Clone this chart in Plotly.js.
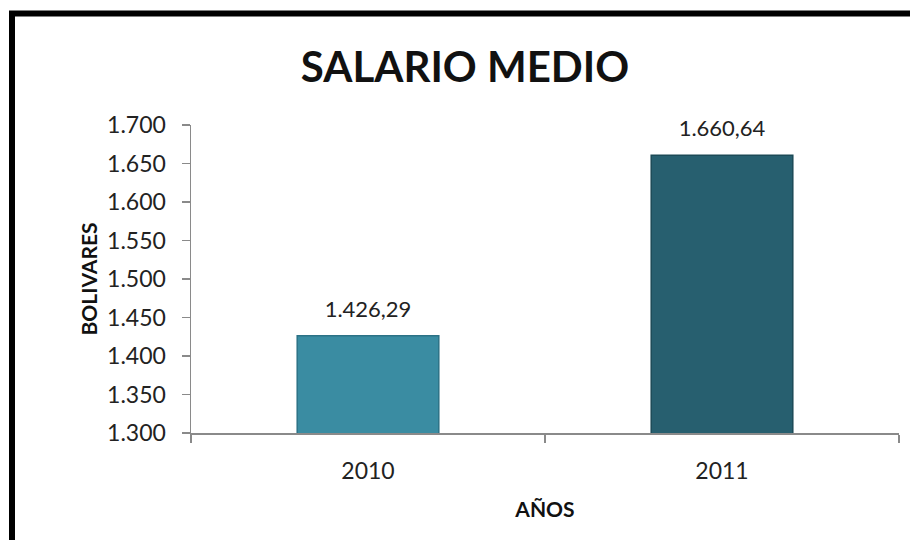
<!DOCTYPE html>
<html>
<head>
<meta charset="utf-8">
<script src="https://cdn.plot.ly/plotly-3.0.1.min.js"></script>
<style>
html,body{margin:0;padding:0;background:#fff;}
#chart{width:910px;height:540px;}
</style>
</head>
<body>
<div id="chart"></div>
<script>
const years = ['2010', '2011'];
const salaries = [1426.29, 1660.64];
const barColors = ['#3A8CA2', '#275F6F'];
const barEdges = ['#2C7286', '#1C4A57'];
const yTickStart = 1300;
const yTickEnd = 1700;
const yTickStep = 50;

const FONT = 'Lato, "Open Sans", sans-serif';

const bars = {
  type: 'bar',
  x: years,
  y: salaries,
  width: 0.4,
  marker: {color: barColors, line: {color: barEdges, width: 1.5}},
  hoverinfo: 'skip'
};

const labels = {
  type: 'scatter',
  mode: 'markers+text',
  x: years,
  y: salaries,
  texttemplate: '%{y:,.2f}',
  textposition: 'top center',
  marker: {size: 20, opacity: 0},
  textfont: {family: FONT, size: 22, color: '#222'},
  cliponaxis: false,
  hoverinfo: 'skip'
};

const layout = {
  width: 910, height: 540,
  margin: {l: 191, r: 11, t: 125, b: 107},
  paper_bgcolor: '#ffffff',
  plot_bgcolor: '#ffffff',
  separators: ',.',
  showlegend: false,
  title: {
    text: '<b>SALARIO MEDIO</b>',
    font: {family: FONT, size: 42, color: '#111'},
    x: 465 / 910, xanchor: 'center', xref: 'container',
    y: 0.875, yanchor: 'middle', yref: 'container'
  },
  xaxis: {
    type: 'category',
    showline: true, linecolor: '#8a8a8a', linewidth: 1.5,
    ticks: 'outside', tickson: 'boundaries', ticklen: 8, tickcolor: '#8a8a8a', tickwidth: 1.5,
    tickfont: {family: FONT, size: 23, color: '#222'},
    tickangle: 0,
    ticklabelstandoff: 17,
    showgrid: false, zeroline: false,
    title: {text: '<b>AÑOS</b>', font: {family: FONT, size: 21, color: '#111'}, standoff: 19}
  },
  yaxis: {
    range: [yTickStart, yTickEnd],
    tick0: yTickStart, dtick: yTickStep,
    tickformat: ',.0f',
    showline: true, linecolor: '#8a8a8a', linewidth: 1.5,
    ticks: 'outside', ticklen: 8, tickcolor: '#8a8a8a', tickwidth: 1.5,
    tickfont: {family: FONT, size: 23, color: '#222'},
    ticklabelstandoff: 11,
    showgrid: false, zeroline: false,
    title: {text: '<b>BOLIVARES</b>', font: {family: FONT, size: 21, color: '#111'}, standoff: 4}
  },
  shapes: [{
    type: 'rect', xref: 'paper', yref: 'paper',
    x0: (12 - 191) / 708, x1: (916 - 191) / 708,
    y0: (433 - 548) / 308, y1: (433 - 13.5) / 308,
    line: {color: '#000', width: 6}, fillcolor: 'rgba(0,0,0,0)', layer: 'below'
  }]
};

Plotly.newPlot('chart', [bars, labels], layout, {displayModeBar: false, staticPlot: true});
</script>
</body>
</html>
